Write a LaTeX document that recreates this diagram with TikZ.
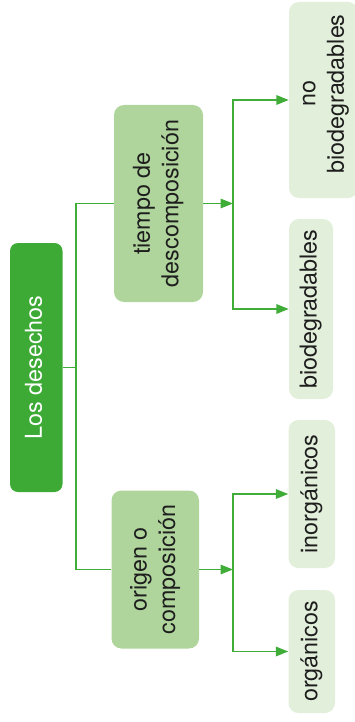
\documentclass[tikz,border=0pt]{standalone}
\usepackage{fontspec}
\setmainfont{TeX Gyre Heros}
\usetikzlibrary{arrows.meta}
\definecolor{rootgreen}{HTML}{3CAA35}
\definecolor{linegreen}{HTML}{3FAD38}
\definecolor{midgreen}{HTML}{AFD59C}
\definecolor{palegreen}{HTML}{E2EFDA}
\definecolor{ink}{HTML}{1E1E1E}
\newcommand{\vtext}[1]{\rotatebox{90}{\begin{tabular}{@{}c@{}}#1\end{tabular}}}
\tikzset{
  box/.style={rectangle, inner sep=0pt, text=ink,
    font=\fontsize{23.3}{28.5}\selectfont},
  rootbox/.style={box, fill=rootgreen, text=white, rounded corners=8pt},
  midbox/.style={box, fill=midgreen, rounded corners=10pt},
  leafbox/.style={box, fill=palegreen, rounded corners=10pt},
  link/.style={draw=linegreen, line width=1.7pt},
  arrowlink/.style={link, -{Triangle[length=12.5pt,width=9.5pt]}}
}
\begin{document}
\begin{tikzpicture}[x=1pt,y=-1pt]
\useasboundingbox (0,0) rectangle (355,722);

% main boxes
\node[rootbox, minimum width=52.5pt, minimum height=249pt] (root) at (36.25,367.5)
  {\vtext{Los desechos}};
\node[midbox, minimum width=89pt, minimum height=197pt] (t) at (158.5,203.5)
  {\vtext{tiempo de\\descomposición}};
\node[midbox, minimum width=87.5pt, minimum height=158pt] (o) at (155.25,569.5)
  {\vtext{origen o\\composición}};

% leaf boxes
\node[leafbox, minimum width=69pt, minimum height=196pt] (nb) at (323.5,100) {};
\node[box] (nbtext) at (324,94) {\vtext{no\\biodegradables}};
\node[leafbox, minimum width=44pt, minimum height=180pt] (b) at (311,309)
  {\vtext{biodegradables}};
\node[leafbox, minimum width=46.5pt, minimum height=148pt] (i) at (311.75,494)
  {\vtext{inorgánicos}};
\node[leafbox, minimum width=46.5pt, minimum height=123pt] (org) at (311.75,651.5)
  {\vtext{orgánicos}};

% junction points
\coordinate (j1) at (76,367.5);
\coordinate (j2) at (233,203.5);
\coordinate (j3) at (233,569.5);

% connectors
\draw[link] (root.east) -- (j1);
\draw[link] (t.west) -| (j1) |- (o.west);
\draw[arrowlink] (t.east) -- (j2);
\draw[arrowlink] (j2) |- (nb.west);
\draw[arrowlink] (j2) |- (b.west);
\draw[arrowlink] (o.east) -- (j3);
\draw[arrowlink] (j3) |- (i.west);
\draw[arrowlink] (j3) |- (org.west);
\end{tikzpicture}
\end{document}
